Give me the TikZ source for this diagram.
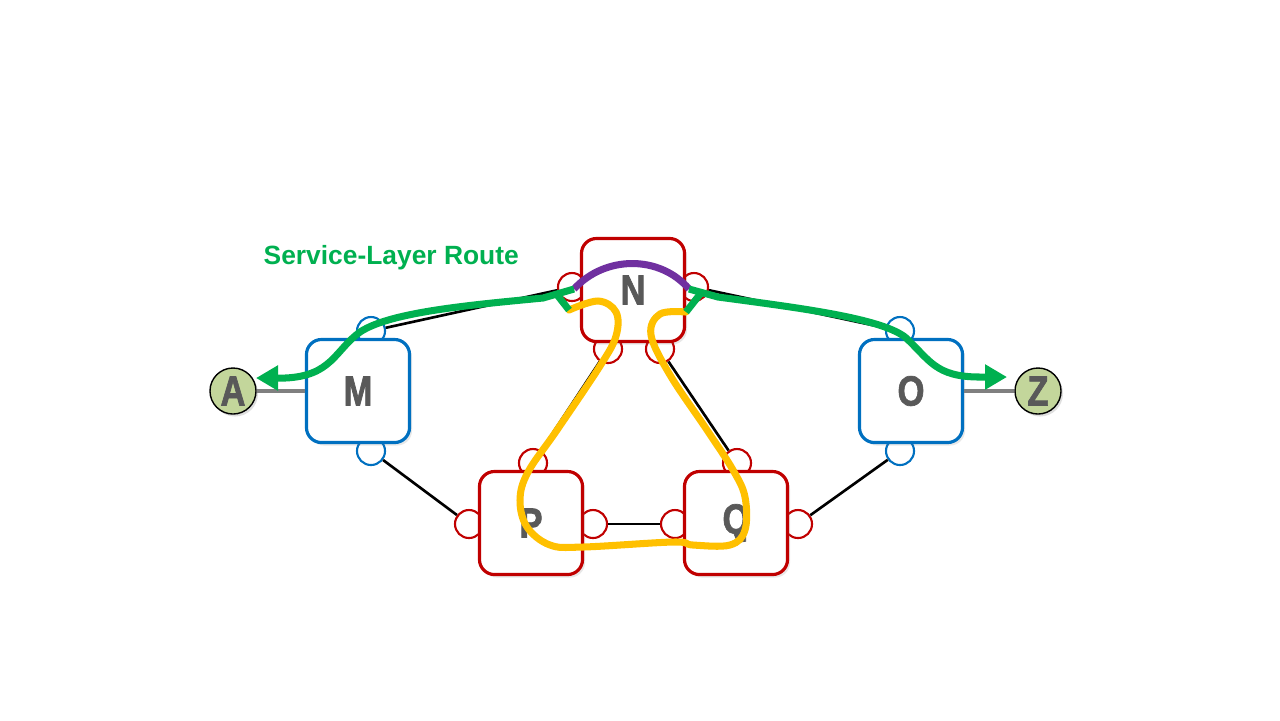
\documentclass[tikz,border=0pt]{standalone}
\usepackage{fontspec}
\setmainfont{Liberation Sans}
\newfontfamily\narrowfont[FakeStretch=0.82, FakeBold=1.6]{Liberation Sans Bold}
\usetikzlibrary{arrows.meta,shadows}
\definecolor{nodered}{HTML}{C00000}
\definecolor{nodeblue}{HTML}{0070C0}
\definecolor{labelgray}{HTML}{595959}
\definecolor{routegreen}{HTML}{00B050}
\definecolor{routepurple}{HTML}{7030A0}
\definecolor{loopyellow}{HTML}{FFC000}
\definecolor{endgreen}{HTML}{C3D69B}

\begin{document}
\begin{tikzpicture}[x=0.01cm,y=-0.01cm,
    box/.style={draw=#1, line width=0.9pt, fill=white, rounded corners=0.15cm,
        minimum size=1.03cm, inner sep=0pt, text=labelgray,
        font=\narrowfont\fontsize{12}{14}\selectfont,
        drop shadow={opacity=0.18, shadow xshift=0.25mm, shadow yshift=-0.3mm}},
    port/.style={circle, draw=#1, line width=0.6pt, fill=white, minimum size=0.28cm, inner sep=0pt},
    endpoint/.style={circle, draw, line width=0.4pt, fill=endgreen, minimum size=0.46cm,
        inner sep=0pt, text=labelgray, font=\narrowfont\fontsize{12}{14}\selectfont,
        drop shadow={opacity=0.25, shadow xshift=0.2mm, shadow yshift=-0.25mm}},
    link/.style={line width=0.75pt},
    access/.style={line width=0.9pt, gray},
    route/.style={line width=2pt, routegreen},
    loop/.style={line width=2pt, loopyellow, line cap=round}]

    \useasboundingbox (0,0) rectangle (1280,720);

    % Label
    \node[anchor=base west, inner sep=0pt, text=routegreen, font=\bfseries\fontsize{7.5}{9}\selectfont] (routelabel) at (263,264) {Service-Layer Route};

    % Ports
    \node[port=nodeblue] (Mt) at (371,331) {};
    \node[port=nodeblue] (Mb) at (371,451) {};
    \node[port=nodeblue] (Ot) at (900,331) {};
    \node[port=nodeblue] (Ob) at (900,451) {};
    \node[port=nodered] (Nl) at (572,287) {};
    \node[port=nodered] (Nr) at (694,287) {};
    \node[port=nodered] (Nbl) at (608,349) {};
    \node[port=nodered] (Nbr) at (660,349) {};
    \node[port=nodered] (Pt) at (533,463) {};
    \node[port=nodered] (Pl) at (469,524) {};
    \node[port=nodered] (Pr) at (593,524) {};
    \node[port=nodered] (Qt) at (737,463) {};
    \node[port=nodered] (Ql) at (675,524) {};
    \node[port=nodered] (Qr) at (798,524) {};

    % Links
    \draw[link] (Mt) -- (Nl);
    \draw[link] (Nr) -- (Ot);
    \draw[link] (Mb) -- (Pl);
    \draw[link] (Nbl) -- (Pt);
    \draw[link] (Nbr) -- (Qt);
    \draw[link] (Pr) -- (Ql);
    \draw[link] (Qr) -- (Ob);

    % Nodes
    \node[box=nodered] (N) at (633,290) {N};
    \node[box=nodeblue] (M) at (358,391) {M};
    \node[box=nodeblue] (O) at (911,391) {O};
    \node[box=nodered] (P) at (531,523) {P};
    \node[box=nodered] (Q) at (736,523) {Q};
    \node[endpoint] (A) at (233,391) {A};
    \node[endpoint] (Z) at (1038,391) {Z};

    % Access links
    \draw[access] (A) -- (M);
    \draw[access] (O) -- (Z);

    % Route points
    \coordinate (Nin) at (574,289);
    \coordinate (Nout) at (689,289);
    \coordinate (Ltee) at (558,296);
    \coordinate (Lloop) at (569,310);
    \coordinate (Rtee) at (701,293);
    \coordinate (Rloop) at (686,312);
    \coordinate (Aend) at (256,378);
    \coordinate (Zend) at (1007,377);

    % Protection loop
    \draw[loop] plot[smooth, tension=0.6] coordinates {(Lloop) (598,301) (616,312) (616,336) (600,366)
        (557,430) (528,472) (520,500) (527,527) (550,545) (583,547) (673,542) (693,545) (730,545)
        (745,530) (745,497) (733,470) (707,430) (670,375) (651,335) (660,314) (Rloop)};

    % Service route
    \draw[line width=2pt, routepurple] (Nin) .. controls (605,255) and (660,255) .. (Nout);
    \draw[route, -{Triangle[length=2.2mm, width=2.4mm]}] (Nin) -- (543,298)
        .. controls (470,305) and (390,312) .. (360,332)
        .. controls (335,350) and (332,376) .. (285,378) -- (Aend);
    \draw[route, -{Triangle[length=2.2mm, width=2.4mm]}] (Nout) -- (718,297)
        .. controls (800,308) and (880,318) .. (905,337)
        .. controls (930,360) and (935,377) .. (980,377) -- (Zend);
    \draw[route] (Ltee) -- (Lloop);
    \draw[route] (Rtee) -- (Rloop);

\end{tikzpicture}
\end{document}
